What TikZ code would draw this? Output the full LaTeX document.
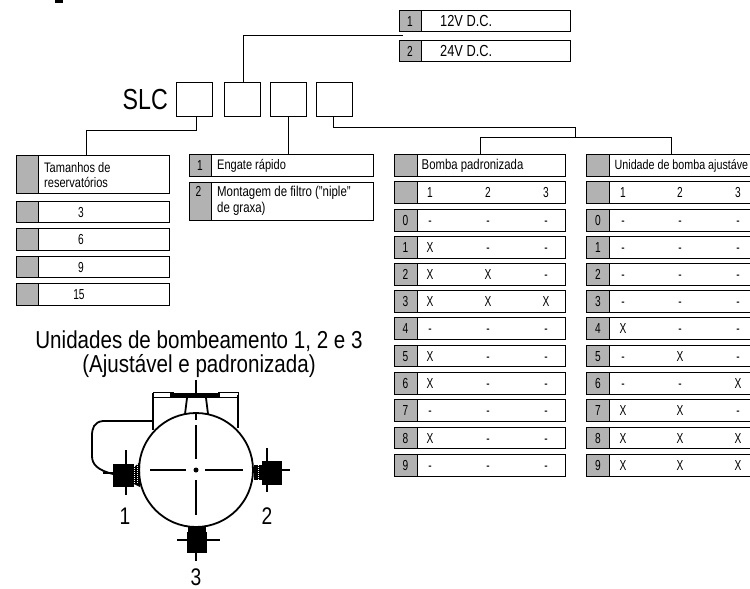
\documentclass[tikz,border=0pt]{standalone}
\usepackage{fontspec}
\setmainfont{Liberation Sans}[FakeStretch=0.8]
\newfontfamily\cellfont{Liberation Sans}[FakeStretch=0.7]
\newfontfamily\titlefont{Liberation Sans}[FakeStretch=0.84]
\definecolor{cellgray}{HTML}{B2B2B2}
\tikzset{
  box/.style={draw=black, line width=1pt, fill=white, inner sep=0pt, minimum height=21.5pt},
  numcell/.style={draw=black, line width=1pt, fill=cellgray, inner sep=0pt, minimum height=21.5pt, font=\cellfont\fontsize{14.5}{15}\selectfont, text height=10pt, text depth=0pt},
  txt/.style={inner sep=0pt, anchor=west, align=left, font=\fontsize{13.8}{15.8}\selectfont},
  cell/.style={inner sep=0pt, font=\cellfont\fontsize{14.5}{15}\selectfont, text height=10pt, text depth=0pt},
  big/.style={inner sep=0pt, font=\fontsize{24}{26}\selectfont},
  link/.style={black, line width=1pt},
  pumpline/.style={black, line width=1.8pt},
  centerline/.style={black, line width=1.2pt}
}
\begin{document}
\begin{tikzpicture}[x=1pt,y=-1pt]
  \path [use as bounding box, clip] (0,0) rectangle (750,589);
  \fill [black] (55,0) rectangle (63,2.5);
  \node [box, minimum width=171pt] (volt1) at (484.5,21) {};
  \node [numcell, minimum width=22pt] (volt1n) at (410,21) {1};
  \node [txt, font=\fontsize{16}{18}\selectfont] (volt1t) at (440,21) {12V D.C.};
  \node [box, minimum width=171pt] (volt2) at (484.5,51) {};
  \node [numcell, minimum width=22pt] (volt2n) at (410,51) {2};
  \node [txt, font=\fontsize{16}{18}\selectfont] (volt2t) at (440,51) {24V D.C.};
  \node [big, font=\fontsize{29}{31}\selectfont, anchor=east] (slc) at (168,100) {SLC};
  \node [box, minimum width=36pt, minimum height=34pt] (opta) at (194,99) {};
  \node [box, minimum width=36pt, minimum height=34pt] (optb) at (242,99) {};
  \node [box, minimum width=36pt, minimum height=34pt] (optc) at (288,99) {};
  \node [box, minimum width=36pt, minimum height=34pt] (optd) at (334,99) {};
  \node [box, minimum width=153pt, minimum height=38pt] (res) at (92.5,174) {};
  \node [numcell, minimum width=22pt, minimum height=38pt] (resn) at (27,174) {};
  \node [txt] (rest) at (44,175) {Tamanhos de\\reservatórios};
  \node [box, minimum width=153pt] (res3) at (92.5,212) {};
  \node [numcell, minimum width=22pt] (res3n) at (27,212) {};
  \node [cell] (res3t) at (81,212) {3};
  \node [box, minimum width=153pt] (res6) at (92.5,239.5) {};
  \node [numcell, minimum width=22pt] (res6n) at (27,239.5) {};
  \node [cell] (res6t) at (81,239.5) {6};
  \node [box, minimum width=153pt] (res9) at (92.5,267) {};
  \node [numcell, minimum width=22pt] (res9n) at (27,267) {};
  \node [cell] (res9t) at (81,267) {9};
  \node [box, minimum width=153pt] (res15) at (92.5,294.5) {};
  \node [numcell, minimum width=22pt] (res15n) at (27,294.5) {};
  \node [cell] (res15t) at (79,294.5) {15};
  \node [box, minimum width=184pt] (eng1) at (281,165.5) {};
  \node [numcell, minimum width=22pt] (eng1n) at (200,165.5) {1};
  \node [txt] (eng1t) at (217,165.5) {Engate rápido};
  \node [box, minimum width=184pt, minimum height=38pt] (eng2) at (281,201) {};
  \node [numcell, minimum width=22pt, minimum height=38pt] (eng2n) at (200,201) {};
  \node [cell] (eng2m) at (198.5,191) {2};
  \node [txt, font=\fontsize{14.3}{15.8}\selectfont] (eng2t) at (217,201) {Montagem de filtro ("niple"\\de graxa)};
  \node [box, minimum width=171pt] (pad) at (479.5,165.5) {};
  \node [numcell, minimum width=23pt] (padn) at (405.5,165.5) {};
  \node [txt, font=\fontsize{14.2}{16}\selectfont] (padt) at (421.5,165.5) {Bomba padronizada};
  \node [box, minimum width=171pt] (padh) at (479.5,192.5) {};
  \node [numcell, minimum width=23pt] (padhn) at (405.5,192.5) {};
  \node [cell] (padh1) at (430,192.5) {1}; \node [cell] (padh2) at (488,192.5) {2}; \node [cell] (padh3) at (546,192.5) {3};
  \node [box, minimum width=171pt] (pad0) at (479.5,220.5) {};
  \node [numcell, minimum width=23pt] (pad0n) at (405.5,220.5) {0};
  \node [cell] (pad0a) at (430,220.5) {-}; \node [cell] (pad0b) at (488,220.5) {-}; \node [cell] (pad0c) at (546,220.5) {-};
  \node [box, minimum width=171pt] (pad1) at (479.5,247.5) {};
  \node [numcell, minimum width=23pt] (pad1n) at (405.5,247.5) {1};
  \node [cell] (pad1a) at (430,247.5) {X}; \node [cell] (pad1b) at (488,247.5) {-}; \node [cell] (pad1c) at (546,247.5) {-};
  \node [box, minimum width=171pt] (pad2) at (479.5,274.5) {};
  \node [numcell, minimum width=23pt] (pad2n) at (405.5,274.5) {2};
  \node [cell] (pad2a) at (430,274.5) {X}; \node [cell] (pad2b) at (488,274.5) {X}; \node [cell] (pad2c) at (546,274.5) {-};
  \node [box, minimum width=171pt] (pad3) at (479.5,301.5) {};
  \node [numcell, minimum width=23pt] (pad3n) at (405.5,301.5) {3};
  \node [cell] (pad3a) at (430,301.5) {X}; \node [cell] (pad3b) at (488,301.5) {X}; \node [cell] (pad3c) at (546,301.5) {X};
  \node [box, minimum width=171pt] (pad4) at (479.5,328.5) {};
  \node [numcell, minimum width=23pt] (pad4n) at (405.5,328.5) {4};
  \node [cell] (pad4a) at (430,328.5) {-}; \node [cell] (pad4b) at (488,328.5) {-}; \node [cell] (pad4c) at (546,328.5) {-};
  \node [box, minimum width=171pt] (pad5) at (479.5,356) {};
  \node [numcell, minimum width=23pt] (pad5n) at (405.5,356) {5};
  \node [cell] (pad5a) at (430,356) {X}; \node [cell] (pad5b) at (488,356) {-}; \node [cell] (pad5c) at (546,356) {-};
  \node [box, minimum width=171pt] (pad6) at (479.5,383.5) {};
  \node [numcell, minimum width=23pt] (pad6n) at (405.5,383.5) {6};
  \node [cell] (pad6a) at (430,383.5) {X}; \node [cell] (pad6b) at (488,383.5) {-}; \node [cell] (pad6c) at (546,383.5) {-};
  \node [box, minimum width=171pt] (pad7) at (479.5,410.5) {};
  \node [numcell, minimum width=23pt] (pad7n) at (405.5,410.5) {7};
  \node [cell] (pad7a) at (430,410.5) {-}; \node [cell] (pad7b) at (488,410.5) {-}; \node [cell] (pad7c) at (546,410.5) {-};
  \node [box, minimum width=171pt] (pad8) at (479.5,438) {};
  \node [numcell, minimum width=23pt] (pad8n) at (405.5,438) {8};
  \node [cell] (pad8a) at (430,438) {X}; \node [cell] (pad8b) at (488,438) {-}; \node [cell] (pad8c) at (546,438) {-};
  \node [box, minimum width=171pt] (pad9) at (479.5,465.5) {};
  \node [numcell, minimum width=23pt] (pad9n) at (405.5,465.5) {9};
  \node [cell] (pad9a) at (430,465.5) {-}; \node [cell] (pad9b) at (488,465.5) {-}; \node [cell] (pad9c) at (546,465.5) {-};
  \node [box, minimum width=171pt] (adj) at (672.5,165.5) {};
  \node [numcell, minimum width=23pt] (adjn) at (598,165.5) {};
  \node [txt, font=\fontsize{13.4}{16}\selectfont] (adjt) at (614.5,165.5) {Unidade de bomba ajustáve};
  \node [box, minimum width=171pt] (adjh) at (672.5,192.5) {};
  \node [numcell, minimum width=23pt] (adjhn) at (598,192.5) {};
  \node [cell] (adjh1) at (623,192.5) {1}; \node [cell] (adjh2) at (680,192.5) {2}; \node [cell] (adjh3) at (738,192.5) {3};
  \node [box, minimum width=171pt] (adj0) at (672.5,220.5) {};
  \node [numcell, minimum width=23pt] (adj0n) at (598,220.5) {0};
  \node [cell] (adj0a) at (623,220.5) {-}; \node [cell] (adj0b) at (680,220.5) {-}; \node [cell] (adj0c) at (738,220.5) {-};
  \node [box, minimum width=171pt] (adj1) at (672.5,247.5) {};
  \node [numcell, minimum width=23pt] (adj1n) at (598,247.5) {1};
  \node [cell] (adj1a) at (623,247.5) {-}; \node [cell] (adj1b) at (680,247.5) {-}; \node [cell] (adj1c) at (738,247.5) {-};
  \node [box, minimum width=171pt] (adj2) at (672.5,274.5) {};
  \node [numcell, minimum width=23pt] (adj2n) at (598,274.5) {2};
  \node [cell] (adj2a) at (623,274.5) {-}; \node [cell] (adj2b) at (680,274.5) {-}; \node [cell] (adj2c) at (738,274.5) {-};
  \node [box, minimum width=171pt] (adj3) at (672.5,301.5) {};
  \node [numcell, minimum width=23pt] (adj3n) at (598,301.5) {3};
  \node [cell] (adj3a) at (623,301.5) {-}; \node [cell] (adj3b) at (680,301.5) {-}; \node [cell] (adj3c) at (738,301.5) {-};
  \node [box, minimum width=171pt] (adj4) at (672.5,328.5) {};
  \node [numcell, minimum width=23pt] (adj4n) at (598,328.5) {4};
  \node [cell] (adj4a) at (623,328.5) {X}; \node [cell] (adj4b) at (680,328.5) {-}; \node [cell] (adj4c) at (738,328.5) {-};
  \node [box, minimum width=171pt] (adj5) at (672.5,356) {};
  \node [numcell, minimum width=23pt] (adj5n) at (598,356) {5};
  \node [cell] (adj5a) at (623,356) {-}; \node [cell] (adj5b) at (680,356) {X}; \node [cell] (adj5c) at (738,356) {-};
  \node [box, minimum width=171pt] (adj6) at (672.5,383.5) {};
  \node [numcell, minimum width=23pt] (adj6n) at (598,383.5) {6};
  \node [cell] (adj6a) at (623,383.5) {-}; \node [cell] (adj6b) at (680,383.5) {-}; \node [cell] (adj6c) at (738,383.5) {X};
  \node [box, minimum width=171pt] (adj7) at (672.5,410.5) {};
  \node [numcell, minimum width=23pt] (adj7n) at (598,410.5) {7};
  \node [cell] (adj7a) at (623,410.5) {X}; \node [cell] (adj7b) at (680,410.5) {X}; \node [cell] (adj7c) at (738,410.5) {-};
  \node [box, minimum width=171pt] (adj8) at (672.5,438) {};
  \node [numcell, minimum width=23pt] (adj8n) at (598,438) {8};
  \node [cell] (adj8a) at (623,438) {X}; \node [cell] (adj8b) at (680,438) {X}; \node [cell] (adj8c) at (738,438) {X};
  \node [box, minimum width=171pt] (adj9) at (672.5,465.5) {};
  \node [numcell, minimum width=23pt] (adj9n) at (598,465.5) {9};
  \node [cell] (adj9a) at (623,465.5) {X}; \node [cell] (adj9b) at (680,465.5) {X}; \node [cell] (adj9c) at (738,465.5) {X};
  \coordinate (voltend) at (403,35.5);
  \coordinate (splitend) at (575,137);
  \draw [link] ([xshift=1pt]optb.north) |- (voltend);
  \draw [link] ([xshift=2pt]opta.south) |- (86,130) -- ([xshift=-6.5pt]res.north);
  \draw [link] (optc.south) -- (optc.south |- eng1.north);
  \draw [link] ([xshift=-1pt]optd.south) |- (575,127) -- (splitend);
  \draw [link] ([xshift=0.5pt]pad.north) |- (splitend);
  \draw [link] ([xshift=-1.5pt]adj.north) |- (splitend);
  \node [align=center, inner sep=0pt, font=\titlefont\fontsize{24.5}{23.5}\selectfont] (title) at (199,354) {Unidades de bombeamento 1, 2 e 3\\(Ajustável e padronizada)};
  \draw [pumpline] (196,470) circle (57);
  \draw [black, line width=1pt] (153,392.5) rectangle (173,397) (218,392.5) rectangle (238,397);
  \draw [pumpline] (153,430) -- (153,393);
  \draw [black, line width=1.2pt] (238,395) -- (238,428);
  \draw [black, line width=4.5pt] (170,395.5) -- (220,395.5);
  \draw [pumpline] (185,414) -- (187,398) (208,414) -- (206,398);
  \draw [pumpline] (153,421) -- (103,421) .. controls (94,422) and (92,428) .. (92,436) -- (92,456) .. controls (92,464) and (97,470) .. (113,474);
  \draw [black, line width=2pt] (196,380) -- (196,398);
  \draw [centerline] (196,412) -- (196,420);
  \draw [black, line width=2pt] (196,425) -- (196,459);
  \draw [centerline] (196,480) -- (196,515) (150,470) -- (186,470) (205,470) -- (243,470);
  \fill [black] (196,470) circle (2.5);
  \fill [black] (113,464) rectangle (134,487);
  \fill [black] (134,467) -- (140,462) -- (140,487) -- (134,484);
  \draw [white, densely dotted, line width=1pt] (134,464) -- (134,484) (137,464) -- (137,484);
  \draw [centerline] (126,450) -- (126,495) (103,473) -- (115,473);
  \fill [black] (262,461) rectangle (282,485);
  \fill [black] (254,465) rectangle (262,480);
  \draw [white, densely dotted, line width=1pt] (258,465) -- (258,480);
  \draw [centerline] (267,448) -- (267,492) (280,470) -- (290,470);
  \fill [black] (187,532) rectangle (207,553);
  \fill [black] (188,527) rectangle (206,532);
  \draw [centerline] (177,540) -- (220,540) (196,553) -- (196,561);
  \node [big] (pump1) at (125,516) {1};
  \node [big] (pump2) at (267,516) {2};
  \node [big] (pump3) at (196,577) {3};
\end{tikzpicture}
\end{document}
